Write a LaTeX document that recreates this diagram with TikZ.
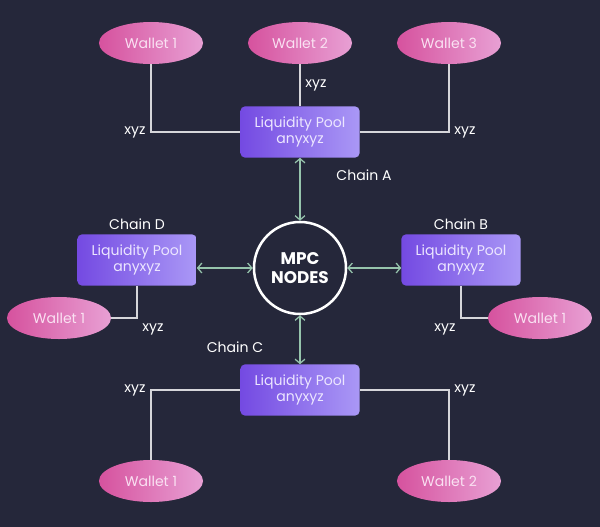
\documentclass[tikz,border=0pt]{standalone}
\usepackage{fontspec}
\setmainfont{Poppins}
\usetikzlibrary{arrows.meta,shapes.geometric}
\definecolor{bg}{RGB}{37,39,58}
\definecolor{walletL}{RGB}{214,82,158}
\definecolor{walletR}{RGB}{232,160,212}
\definecolor{walletT}{RGB}{250,225,242}
\definecolor{poolL}{RGB}{116,74,226}
\definecolor{poolR}{RGB}{170,152,246}
\definecolor{poolT}{RGB}{236,230,255}
\definecolor{linkc}{RGB}{214,214,218}
\definecolor{arrowc}{RGB}{150,196,172}

\begin{document}
\begin{tikzpicture}[x = .025cm, y = -.025cm,
		wallet/.style = {ellipse, minimum width = 2.6cm, minimum height = 1.05cm, inner sep = 0pt, left color = walletL, right color = walletR, text = walletT, font = \normalsize},
		pool/.style = {rectangle, rounded corners = 3pt, minimum width = 2.975cm, minimum height = 1.275cm, inner sep = 0pt, left color = poolL, right color = poolR, text = poolT, align = center, font = \normalsize},
		link/.style = {draw = linkc, line width = 1.1pt},
		chan/.style = {draw = arrowc, line width = .9pt, {Straight Barb[length = 3pt, width = 7pt]}-{Straight Barb[length = 3pt, width = 7pt]}},
		lbl/.style = {text = white, font = \normalsize}]
		\fill [bg] (0, 0) rectangle (600, 527);
		\useasboundingbox (0, 0) rectangle (600, 527);

		% chain A
		\node [pool] (poolA) at (300, 132) {Liquidity Pool\\anyxyz};
		\node [wallet] (walletA1) at (151, 43) {Wallet 1};
		\node [wallet] (walletA2) at (300, 43) {Wallet 2};
		\node [wallet] (walletA3) at (449, 43) {Wallet 3};
		\draw [link] (walletA1) |- node [lbl, pos = .5, left] {xyz} (poolA.west);
		\draw [link] (walletA2) -- node [lbl, right] {xyz} (poolA);
		\draw [link] (walletA3) |- node [lbl, pos = .5, right] {xyz} (poolA.east);
		\node [lbl] (chainA) at (364, 175) {Chain A};

		% MPC
		\node [circle, draw = white, line width = 1.8pt, fill = bg, minimum size = 2.3cm, text = white, align = center, font = \large\bfseries] (mpc) at (300, 268) {MPC\\NODES};

		% chain D
		\node [pool] (poolD) at (137, 260) {Liquidity Pool\\anyxyz};
		\node [wallet] (walletD1) at (59, 318) {Wallet 1};
		\draw [link] (poolD) |- node [lbl, pos = .5, below right] {xyz} (walletD1);
		\node [lbl] (chainD) at (137, 224) {Chain D};

		% chain B
		\node [pool] (poolB) at (461, 260) {Liquidity Pool\\anyxyz};
		\node [wallet] (walletB1) at (540, 318) {Wallet 1};
		\draw [link] (poolB) |- node [lbl, pos = .5, below left] {xyz} (walletB1);
		\node [lbl] (chainB) at (461, 224) {Chain B};

		% chain C
		\node [pool] (poolC) at (300, 390) {Liquidity Pool\\anyxyz};
		\node [wallet] (walletC1) at (151, 481) {Wallet 1};
		\node [wallet] (walletC2) at (449, 481) {Wallet 2};
		\draw [link] (poolC) -| node [lbl, pos = .5, left] {xyz} (walletC1);
		\draw [link] (poolC) -| node [lbl, pos = .5, right] {xyz} (walletC2);
		\node [lbl] (chainC) at (235, 347) {Chain C};

		% links to MPC
		\draw [chan] (poolA) -- (mpc);
		\draw [chan] (poolC) -- (mpc);
		\draw [chan] (poolD.east |- mpc) -- (mpc);
		\draw [chan] (poolB.west |- mpc) -- (mpc);
	\end{tikzpicture}
\end{document}
